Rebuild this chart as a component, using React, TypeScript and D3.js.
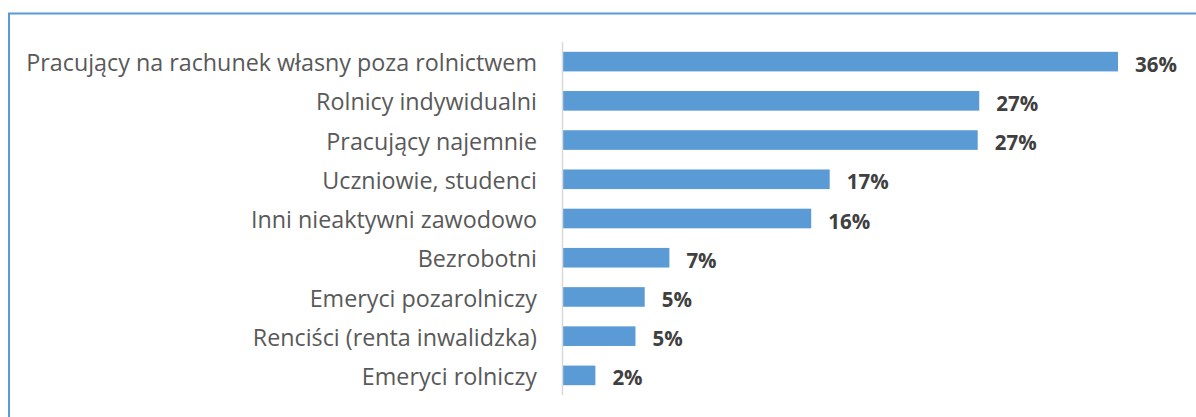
import React from "react";
import * as d3 from "d3";

const categories = [
  "Pracujący na rachunek własny poza rolnictwem",
  "Rolnicy indywidualni",
  "Pracujący najemnie",
  "Uczniowie, studenci",
  "Inni nieaktywni zawodowo",
  "Bezrobotni",
  "Emeryci pozarolniczy",
  "Renciści (renta inwalidzka)",
  "Emeryci rolniczy",
];
const values = [36.0, 27.0, 26.9, 17.3, 16.1, 6.9, 5.3, 4.7, 2.1];

const W = 1196;
const H = 417;

export default function App() {
  const x0 = 563;
  const x = d3.scaleLinear().domain([0, 36]).range([x0, 1118]);
  const y = d3.scaleBand<string>().domain(categories).range([42, 395]).paddingInner(0.5).paddingOuter(0.25);
  return (
    <svg width={W} height={H} style={{ position: "absolute", left: 0, top: 0 }}>
      <rect x={9} y={13.5} width={W + 20} height={H + 20} fill="white" stroke="#5B9BD5" strokeWidth={2} />
      {categories.map((c, i) => {
        const cy = (y(c) as number) + y.bandwidth() / 2;
        return (
          <g key={c}>
            <rect x={x(0)} y={y(c)} width={x(values[i]) - x(0)} height={y.bandwidth()} fill="#5B9BD5" />
            <text x={537} y={cy + 9.6} textAnchor="end" fontFamily="Open Sans" fontSize={23.3} fill="#595959">{c}</text>
            <text x={x(values[i]) + 17} y={cy + 10} fontFamily="Open Sans" fontWeight="bold" fontSize={20.5} fill="#404040">{Math.round(values[i]) + "%"}</text>
          </g>
        );
      })}
      <line x1={562.5} x2={562.5} y1={42} y2={395} stroke="#D9D9D9" strokeWidth={1.5} />
    </svg>
  );
}
